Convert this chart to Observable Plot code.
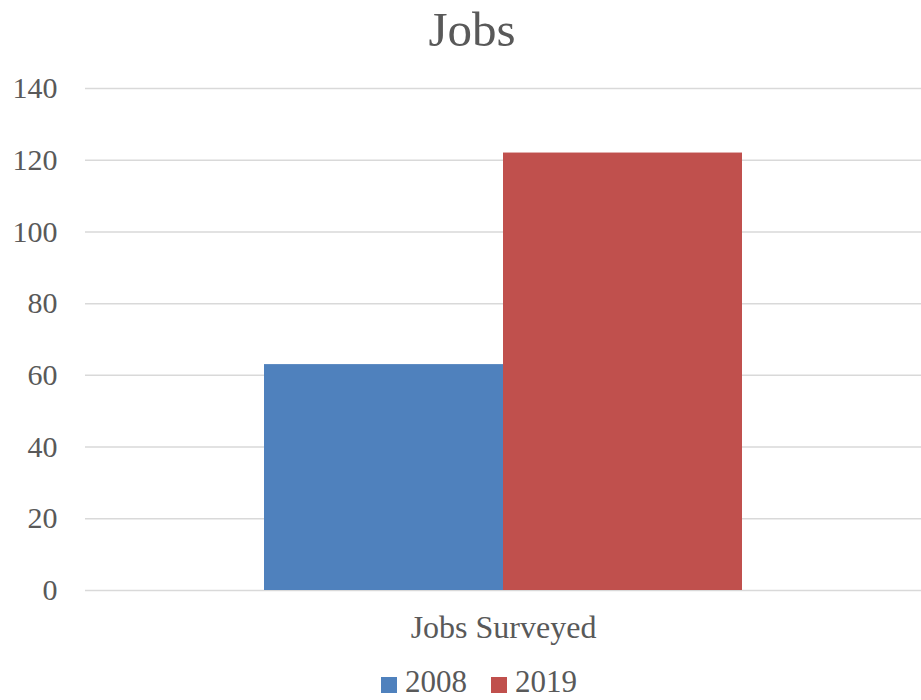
<!DOCTYPE html>
<html>
<head>
<meta charset="utf-8">
<script src="https://cdn.jsdelivr.net/npm/d3@7"></script>
<script src="https://cdn.jsdelivr.net/npm/@observablehq/plot@0.6"></script>
<style>
  html, body { margin: 0; padding: 0; background: #fff; }
  #wrap { position: relative; width: 921px; height: 700px; overflow: hidden; font-family: "Liberation Serif", "Times New Roman", serif; color: #595959; }
  #title { position: absolute; left: 0; top: 0; width: 921px; height: 60px; line-height: 60px; text-align: center; font-size: 49px; padding-left: 23px; box-sizing: border-box; }
  #chart { position: absolute; left: 0; top: 60px; }
  #chart svg, #chart svg text, #chart svg g { font-family: "Liberation Serif", "Times New Roman", serif !important; }
  #legend { position: absolute; left: 381px; top: 664px; height: 36px; line-height: 36px; font-size: 31px; white-space: nowrap; }
  .item { display: inline-block; margin-right: 24px; }
  .sw { display: inline-block; width: 16px; height: 16px; margin-right: 8px; vertical-align: -1px; }
</style>
</head>
<body>
<div id="wrap">
  <div id="title">Jobs</div>
  <div id="chart"></div>
  <div id="legend"></div>
</div>
<script>
const categories = ["Jobs Surveyed"];
const years = ["2008", "2019"];
const values2008 = [63];
const values2019 = [122];
const yTicks = [0, 20, 40, 60, 80, 100, 120, 140];
const colors = ["#4F81BD", "#C0504D"];

const data = categories.flatMap((c, i) => [
  { category: c, year: years[0], value: values2008[i] },
  { category: c, year: years[1], value: values2019[i] }
]);

const chart = Plot.plot({
  width: 921,
  height: 600,
  marginLeft: 85,
  marginRight: 0,
  marginTop: 28,
  marginBottom: 70,
  style: { fontFamily: "Liberation Serif", fontSize: "30px", color: "#595959", background: "white", overflow: "visible" },
  fx: { domain: categories, label: null, padding: 0, axis: "bottom", tickSize: 0, tickPadding: 25 },
  x: { domain: years, axis: null, paddingInner: 0, paddingOuter: 0.745 },
  y: { domain: [0, 140], ticks: yTicks, label: null, tickSize: 0, tickPadding: 28 },
  color: { domain: years, range: colors },
  marks: [
    Plot.gridY(yTicks, { stroke: "#d9d9d9", strokeOpacity: 1, strokeWidth: 1.5 }),
    Plot.barY(data, { fx: "category", x: "year", y: "value", fill: "year" })
  ]
});
chart.setAttribute("font-family", "Liberation Serif");
// enlarge the category label slightly, as in the reference
chart.querySelectorAll('[aria-label="fx-axis tick label"] text').forEach(t => t.style.fontSize = "32px");
document.getElementById("chart").appendChild(chart);

const legend = document.getElementById("legend");
years.forEach((y, i) => {
  const item = document.createElement("span");
  item.className = "item";
  const sw = document.createElement("span");
  sw.className = "sw";
  sw.style.background = colors[i];
  item.appendChild(sw);
  item.appendChild(document.createTextNode(y));
  legend.appendChild(item);
});
</script>
</body>
</html>
